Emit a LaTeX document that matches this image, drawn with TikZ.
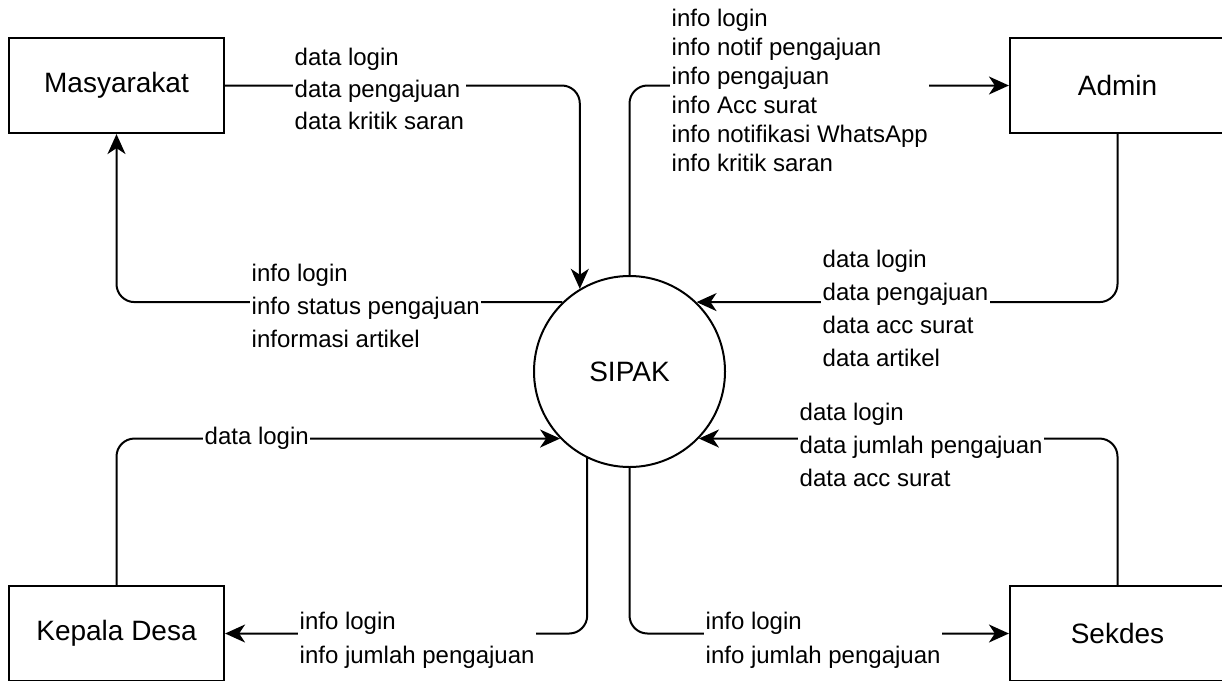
\documentclass[tikz,border=0pt]{standalone}
\usepackage{fontspec}
\setmainfont{Liberation Sans}
\usetikzlibrary{arrows.meta}
\begin{document}
\begin{tikzpicture}[x=1pt,y=-1pt,
  box/.style={draw, line width=2.2pt, minimum width=215pt, minimum height=95pt, inner sep=0pt, font=\fontsize{28}{34}\selectfont},
  proc/.style={draw, circle, line width=2pt, minimum size=191pt, inner sep=0pt, font=\fontsize{28}{34}\selectfont},
  flow/.style={line width=2pt, rounded corners=18pt, -{Stealth[length=20pt,width=18pt,inset=6pt]}},
  lbl/.style={fill=white, inner sep=1.5pt, anchor=west, align=left, font=\fontsize{24}{33}\selectfont},
]
\useasboundingbox (0,0) rectangle (1222,680);
\clip (0,0) rectangle (1222,680);
\fill[white] (0,0) rectangle (1222,680);

\node[box] (M) at (116.5,85.5) {Masyarakat};
\node[box] (A) at (1117.5,85.5) {Admin};
\node[box] (K) at (116.5,633.5) {Kepala Desa};
\node[box] (S) at (1117.5,633.5) {Sekdes};
\node[proc] (P) at (629.5,371.5) {SIPAK};

\draw[flow] (M.east) -| (P.121);
\draw[flow] (P.134) -| (M.south);
\draw[flow] (P.north) |- (A.west);
\draw[flow] (A.south) |- (P.46);
\draw[flow] (S.north) |- (P.-44);
\draw[flow] (K.north) |- (P.-136);
\draw[flow] (P.-116) |- (K.east);
\draw[flow] (P.south) |- (S.west);

\node[lbl, font=\fontsize{24}{32}\selectfont] (l1) at (293,89) {data login\\data pengajuan\\data kritik saran};
\node[lbl, font=\fontsize{24}{29}\selectfont] (l2) at (670,90) {info login\\info notif pengajuan\\info pengajuan\\info Acc surat\\info notifikasi WhatsApp\\info kritik saran};
\node[lbl] (l3) at (250,306) {info login\\info status pengajuan\\informasi artikel};
\node[lbl] (l4) at (821,308) {data login\\data pengajuan\\data acc surat\\data artikel};
\node[lbl] (l5) at (798,445) {data login\\data jumlah pengajuan\\data acc surat};
\node[lbl] (l6) at (203,438) {data login};
\node[lbl, font=\fontsize{24}{34}\selectfont] (l7) at (298,640) {info login\\info jumlah pengajuan};
\node[lbl, font=\fontsize{24}{34}\selectfont] (l8) at (704,640) {info login\\info jumlah pengajuan};
\end{tikzpicture}
\end{document}
